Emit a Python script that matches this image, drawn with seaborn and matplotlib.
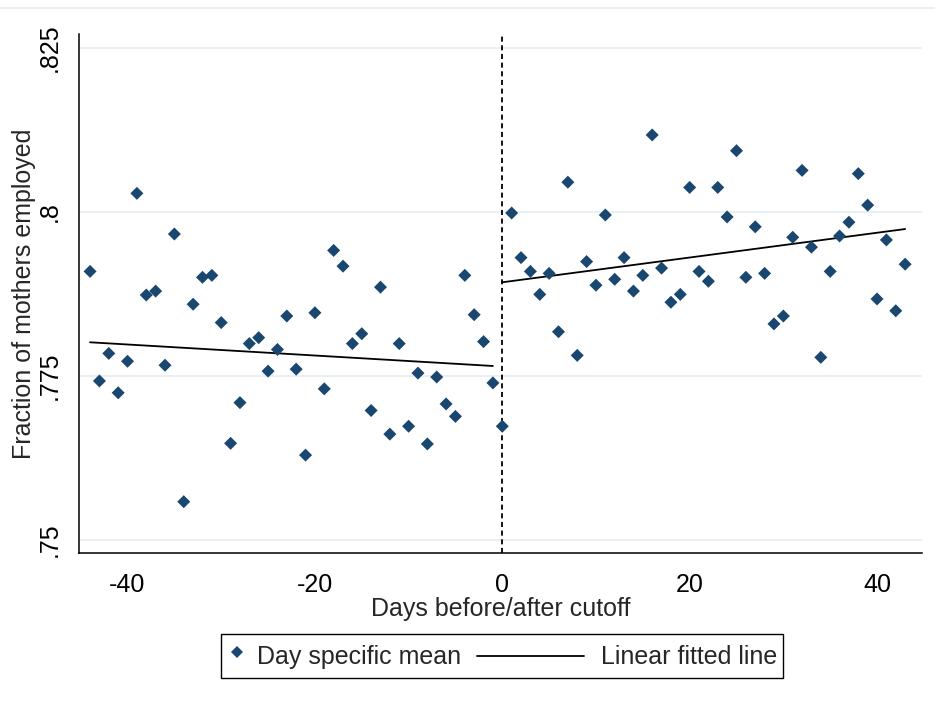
import numpy as np
import pandas as pd
import matplotlib
matplotlib.use("Agg")
import matplotlib.pyplot as plt
from matplotlib.lines import Line2D
from matplotlib.legend_handler import HandlerLine2D
import seaborn as sns

# Day-specific employment means around the cutoff
days_before = list(range(-44, 0))
days_after = list(range(0, 44))
mean_before = [
    0.7909, 0.7742, 0.7784, 0.7724, 0.7772, 0.8028, 0.7873, 0.7879, 0.7766, 0.7966,
    0.7558, 0.7859, 0.7900, 0.7903, 0.7831, 0.7647, 0.7709, 0.7799, 0.7808, 0.7757,
    0.7790, 0.7841, 0.7760, 0.7629, 0.7846, 0.7730, 0.7941, 0.7917, 0.7799, 0.7814,
    0.7697, 0.7885, 0.7661, 0.7799, 0.7673, 0.7754, 0.7646, 0.7748, 0.7707, 0.7688,
    0.7903, 0.7843, 0.7802, 0.7739,
]
mean_after = [
    0.7673, 0.7998, 0.7930, 0.7909, 0.7874, 0.7906, 0.7817, 0.8045, 0.7781, 0.7924,
    0.7888, 0.7995, 0.7897, 0.7930, 0.7879, 0.7903, 0.8117, 0.7914, 0.7862, 0.7874,
    0.8037, 0.7909, 0.7894, 0.8037, 0.7992, 0.8093, 0.7900, 0.7977, 0.7906, 0.7829,
    0.7841, 0.7961, 0.8063, 0.7946, 0.7778, 0.7909, 0.7963, 0.7984, 0.8058, 0.8010,
    0.7867, 0.7957, 0.7849, 0.7920,
]
# Linear fit on each side of the cutoff: value at day 0 and slope per day
fit_before = {"intercept": 0.77640, "slope": -0.0000840}
fit_after = {"intercept": 0.78924, "slope": 0.0001888}

y_ticks = [0.75, 0.775, 0.8, 0.825]
y_tick_labels = [".75", ".775", ".8", ".825"]
x_ticks = [-40, -20, 0, 20, 40]

before = pd.DataFrame({"day": days_before, "share": mean_before})
after = pd.DataFrame({"day": days_after, "share": mean_after})
both = pd.concat([before, after], ignore_index=True)

NAVY = "#1a476f"
GRID = "#e6ecf2"
FONT = ["Liberation Sans", "DejaVu Sans"]
FS = 18

sns.set_theme(style="white")
plt.rcParams["font.family"] = FONT
plt.rcParams["axes.linewidth"] = 1.1

fig = plt.figure(figsize=(9.35, 7.02), dpi=100)
ax = fig.add_axes([0.0848, 0.2118, 0.9018, 0.7398])

for yt in y_ticks:
    ax.axhline(yt, color=GRID, lw=1.2, zorder=0)

sns.scatterplot(data=both, x="day", y="share", marker="D", s=44,
                color=NAVY, edgecolor="none", ax=ax, zorder=3, legend=False)

for part, fit in ((before, fit_before), (after, fit_after)):
    ends = part["day"].iloc[[0, -1]].to_numpy()
    line_df = pd.DataFrame({"day": ends,
                            "share": fit["intercept"] + fit["slope"] * ends})
    sns.lineplot(data=line_df, x="day", y="share", color="black", lw=1.3,
                 ax=ax, zorder=2)

ax.axvline(0, color="black", lw=1.3, ls=(0, (2.8, 2.0)), zorder=2)

ax.set_xlim(-45.15, 44.85)
ax.set_ylim(0.74793, 0.82709)
ax.set_xticks(x_ticks)
ax.set_xticklabels([str(v) for v in x_ticks])
ax.set_yticks(y_ticks)
ax.set_yticklabels(y_tick_labels)

for side in ("top", "right"):
    ax.spines[side].set_visible(False)
for side in ("left", "bottom"):
    ax.spines[side].set_color("black")

ax.tick_params(axis="both", direction="out", length=8, width=1.1,
               color="black", labelcolor="black", labelsize=FS)
ax.tick_params(axis="x", pad=6)
ax.tick_params(axis="y", pad=4.5, labelrotation=90)
for lab in ax.get_yticklabels():
    lab.set_va("center")
    lab.set_ha("right")

ax.set_xlabel("Days before/after cutoff", fontsize=FS, labelpad=0)
ax.set_ylabel("Fraction of mothers employed", fontsize=FS)
ax.yaxis.set_label_coords(-0.051, 0.5)


class FittedLineHandler(HandlerLine2D):
    """Legend key whose line runs well to the left of its handle box."""

    def create_artists(self, legend, orig_handle, xdescent, ydescent,
                       width, height, fontsize, trans):
        y = height / 2 - ydescent
        line = Line2D([-xdescent - 3.76 * fontsize, -xdescent + 0.52 * fontsize],
                      [y, y])
        self.update_prop(line, orig_handle, legend)
        line.set_transform(trans)
        return [line]


mean_key = Line2D([], [], marker="D", ls="none", color=NAVY,
                  markersize=6.4, markeredgewidth=0)
fit_key = Line2D([], [], color="black", lw=1.3)
leg = fig.legend([mean_key, fit_key], ["Day specific mean", "Linear fitted line"],
                 loc="center", bbox_to_anchor=(502 / 935, 1 - 656 / 702),
                 ncol=2, fontsize=FS, frameon=True, fancybox=False,
                 edgecolor="black", framealpha=1, handlelength=0.8,
                 handleheight=1.65, handletextpad=0.4, columnspacing=4.4,
                 borderpad=0.22, borderaxespad=0,
                 handler_map={fit_key: FittedLineHandler()})
leg.get_frame().set_linewidth(1.0)

# faint rule along the top of the graph region
fig.add_artist(Line2D([0, 1], [1 - 8 / 702, 1 - 8 / 702],
                      transform=fig.transFigure, color="#eceff3", lw=1.5))

fig.savefig("out.png", dpi=100)
